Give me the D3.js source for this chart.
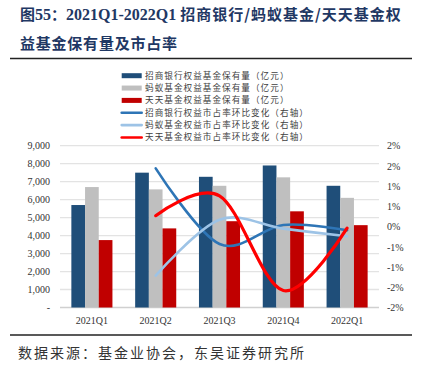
<!DOCTYPE html>
<html>
<head>
<meta charset="utf-8">
<script src="https://cdn.jsdelivr.net/npm/d3@7"></script>
<style>
    body { margin: 0; background: #fff; }
    svg { display: block; }
</style>
</head>
<body>
<svg id="chart" width="424" height="375"></svg>
<script>
    // data
    var quarters = ["2021Q1", "2021Q2", "2021Q3", "2021Q4", "2022Q1"];
    var cmbHold = [5700, 7500, 7270, 7900, 6770];
    var antHold = [6700, 6570, 6770, 7240, 6100];
    var ttHold = [3750, 4400, 4800, 5350, 4580];
    // market share change, % (right axis)
    var cmbShareChg = [null, 1.44, -0.43, 0.04, -0.09];
    var antShareChg = [null, -1.21, 0.17, -0.05, -0.24];
    var ttShareChg = [null, 0.27, 0.76, -1.58, -0.04];

    var leftTicks = [0, 1000, 2000, 3000, 4000, 5000, 6000, 7000, 8000, 9000];
    var leftTickLabels = ["-", "1,000", "2,000", "3,000", "4,000", "5,000", "6,000", "7,000", "8,000", "9,000"];
    var rightTicks = [2, 1.5, 1, 0.5, 0, -0.5, -1, -1.5, -2];
    var rightTickLabels = ["2%", "2%", "1%", "1%", "0%", "-1%", "-1%", "-2%", "-2%"];

    var barNames = ["招商银行权益基金保有量（亿元）", "蚂蚁基金权益基金保有量（亿元）", "天天基金权益基金保有量（亿元）"];
    var lineNames = ["招商银行权益市占率环比变化（右轴）", "蚂蚁基金权益市占率环比变化（右轴）", "天天基金权益市占率环比变化（右轴）"];

    var barColors = ["#1F4E79", "#BFBFBF", "#C00000"];
    var lineColors = ["#2E75B6", "#9DC3E6", "#FF0000"];

    var svg = d3.select("#chart");
    var serif = "'Liberation Serif', 'DejaVu Serif', serif";
    var cjk = "'Noto Sans CJK SC', sans-serif";

    // title
    var title = svg.append("g")
        .attr("fill", "#1F3864")
        .attr("font-weight", "bold");
    var t1 = title.append("text")
        .attr("x", 20).attr("y", 20)
        .attr("font-size", 15);
    t1.append("tspan").attr("font-family", cjk).text("图");
    t1.append("tspan").attr("font-family", serif).attr("font-size", 16).text("55");
    t1.append("tspan").attr("font-family", cjk).text("：");
    t1.append("tspan").attr("font-family", serif).attr("font-size", 16).text("2021Q1-2022Q1 ");
    t1.append("tspan").attr("font-family", cjk).attr("letter-spacing", 1).text("招商银行/蚂蚁基金/天天基金权");
    title.append("text")
        .attr("x", 20).attr("y", 49)
        .attr("font-size", 15)
        .attr("font-family", cjk)
        .attr("textLength", 157)
        .attr("lengthAdjust", "spacing")
        .text("益基金保有量及市占率");

    svg.append("line")
        .attr("x1", 10).attr("x2", 412)
        .attr("y1", 58.5).attr("y2", 58.5)
        .attr("stroke", "#222").attr("stroke-width", 1.5);

    // scales
    var x0 = d3.scaleBand().domain(quarters).range([60, 379]);
    var x1 = d3.scaleBand().domain([0, 1, 2]).range([0, x0.bandwidth()]).paddingOuter(0.83);
    var yL = d3.scaleLinear().domain([0, 9000]).range([307.5, 145.7]);
    var yR = d3.scaleLinear().domain([-2, 2]).range([307.5, 145.7]);

    // grid
    svg.append("g")
        .selectAll("line")
        .data(leftTicks)
        .enter().append("line")
        .attr("x1", 60).attr("x2", 379)
        .attr("y1", function (d) { return yL(d); })
        .attr("y2", function (d) { return yL(d); })
        .attr("stroke", function (d) { return d === 0 ? "#D0D0D0" : "#E3E3E3"; })
        .attr("stroke-width", 1.3);

    // axes
    var leftAxis = d3.axisLeft(yL)
        .tickValues(leftTicks)
        .tickSize(0)
        .tickPadding(0)
        .tickFormat(function (d, i) { return leftTickLabels[i]; });
    var gl = svg.append("g").attr("transform", "translate(50,0)").call(leftAxis);

    var rightAxis = d3.axisRight(yR)
        .tickValues(rightTicks)
        .tickSize(0)
        .tickPadding(0)
        .tickFormat(function (d, i) { return rightTickLabels[i]; });
    var gr = svg.append("g").attr("transform", "translate(387,0)").call(rightAxis);

    var bottomAxis = d3.axisBottom(x0).tickSize(0).tickPadding(0);
    var gb = svg.append("g").attr("transform", "translate(0,317)").call(bottomAxis);

    [gl, gr, gb].forEach(function (g) {
        g.select(".domain").remove();
        g.selectAll("text")
            .attr("font-family", serif)
            .attr("font-size", 10)
            .attr("fill", "#333");
    });
    gb.selectAll("text").attr("dy", "0.71em");

    // bars
    var barSeries = [cmbHold, antHold, ttHold];
    barSeries.forEach(function (vals, s) {
        svg.append("g")
            .selectAll("rect")
            .data(vals)
            .enter().append("rect")
            .attr("x", function (d, i) { return x0(quarters[i]) + x1(s); })
            .attr("width", x1.bandwidth())
            .attr("y", function (d) { return yL(d); })
            .attr("height", function (d) { return yL(0) - yL(d); })
            .attr("fill", barColors[s]);
    });

    // lines
    var line = d3.line()
        .defined(function (d) { return d !== null; })
        .x(function (d, i) { return x0(quarters[i]) + x0.bandwidth() / 2; })
        .y(function (d) { return yR(d); })
        .curve(d3.curveCardinal);

    var lineSeries = [cmbShareChg, antShareChg, ttShareChg];
    lineSeries.forEach(function (vals, s) {
        svg.append("path")
            .datum(vals)
            .attr("d", line)
            .attr("fill", "none")
            .attr("stroke", lineColors[s])
            .attr("stroke-width", s === 2 ? 3.2 : 2.6)
            .attr("stroke-linecap", "round");
    });

    // legend
    var legend = svg.append("g");
    var rowH = 12.35;
    var charW = 9.7;
    function legendText(name, y) {
        legend.append("text")
            .attr("x", 145).attr("y", y)
            .attr("dy", "0.35em")
            .attr("font-family", cjk)
            .attr("font-size", 8.6)
            .attr("fill", "#404040")
            .attr("textLength", name.length * charW - 2)
            .attr("lengthAdjust", "spacing")
            .text(name);
    }
    barNames.forEach(function (name, i) {
        var y = 75.7 + i * rowH;
        legend.append("rect")
            .attr("x", 121.7).attr("y", y - 2.5)
            .attr("width", 20).attr("height", 5)
            .attr("fill", barColors[i]);
        legendText(name, y);
    });
    lineNames.forEach(function (name, i) {
        var y = 75.7 + (i + 3) * rowH;
        legend.append("line")
            .attr("x1", 121.7).attr("x2", 141.7)
            .attr("y1", y).attr("y2", y)
            .attr("stroke", lineColors[i])
            .attr("stroke-width", 2.6)
            .attr("stroke-linecap", "round");
        legendText(name, y);
    });

    // footer
    svg.append("line")
        .attr("x1", 10).attr("x2", 412)
        .attr("y1", 335).attr("y2", 335)
        .attr("stroke", "#222").attr("stroke-width", 1.5);
    svg.append("text")
        .attr("x", 18).attr("y", 358)
        .attr("font-family", cjk)
        .attr("font-size", 14)
        .attr("letter-spacing", 2)
        .attr("fill", "#333")
        .text("数据来源：基金业协会，东吴证券研究所");
</script>
</body>
</html>
